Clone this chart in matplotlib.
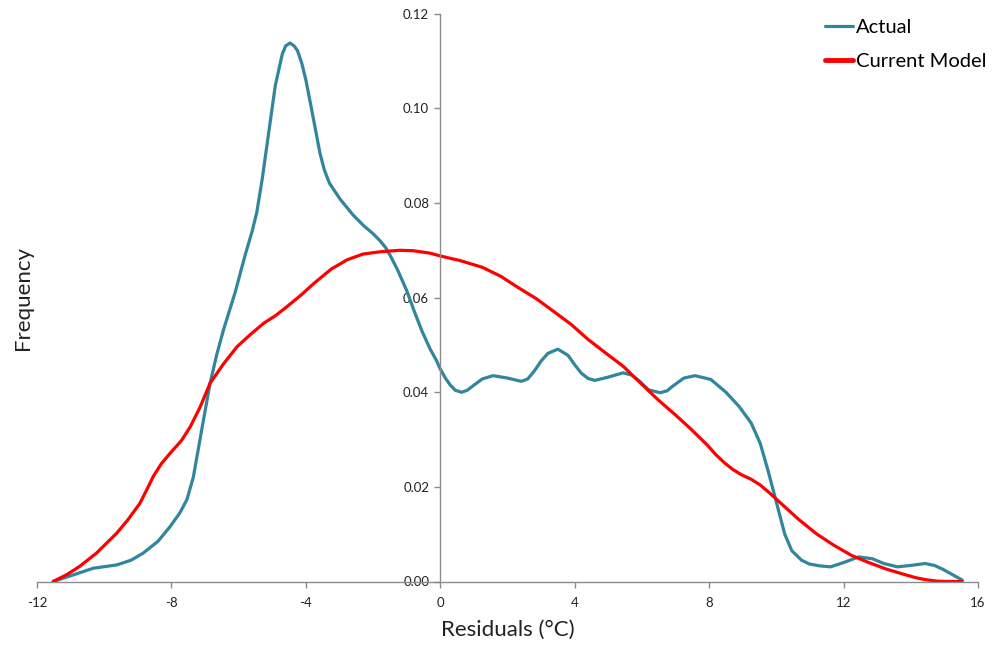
import matplotlib
matplotlib.use("Agg")
import matplotlib.pyplot as plt

# ── Data ──────────────────────────────────────────────────────────────────────
actual_x = [-11.52, -11.0, -10.33, -9.63, -9.2, -8.84, -8.4, -8.04, -7.75, -7.54,
            -7.35, -7.24, -7.05, -6.85, -6.65, -6.45, -6.1, -5.81, -5.6, -5.46,
            -5.3, -5.16, -4.91, -4.7, -4.6, -4.47, -4.35, -4.25, -4.12, -4.0,
            -3.87, -3.7, -3.58, -3.45, -3.3, -2.98, -2.6, -2.28, -2.0, -1.79,
            -1.62, -1.49, -1.28, -1.0, -0.79, -0.55, -0.30, -0.12, 0.0, 0.15,
            0.3, 0.45, 0.63, 0.8, 1.0, 1.25, 1.57, 2.0, 2.41, 2.6,
            2.8, 3.0, 3.2, 3.5, 3.8, 4.0, 4.2, 4.4, 4.6, 5.0,
            5.44, 5.7, 5.9, 6.2, 6.54, 6.75, 6.9, 7.25, 7.58, 8.05,
            8.5, 8.89, 9.25, 9.52, 9.75, 10.04, 10.25, 10.46, 10.75, 10.98,
            11.3, 11.61, 12.0, 12.45, 12.86, 13.2, 13.6, 14.0, 14.43, 14.7,
            14.95, 15.53]
actual_y = [0.0, 0.0012, 0.0028, 0.0035, 0.0045, 0.0060, 0.0085, 0.0116, 0.0145, 0.0173,
            0.0220, 0.0264, 0.0340, 0.0419, 0.0480, 0.0532, 0.0612, 0.0689, 0.0740, 0.0780,
            0.0850, 0.0921, 0.1048, 0.1115, 0.1132, 0.1138, 0.1132, 0.1122, 0.1095, 0.1060,
            0.1013, 0.0950, 0.0905, 0.0870, 0.0842, 0.0808, 0.0775, 0.0752, 0.0735, 0.0720,
            0.0705, 0.0689, 0.0660, 0.0615, 0.0574, 0.0530, 0.0491, 0.0468, 0.0449, 0.0430,
            0.0415, 0.0404, 0.0400, 0.0404, 0.0415, 0.0428, 0.0435, 0.0430, 0.0423, 0.0428,
            0.0445, 0.0466, 0.0482, 0.0491, 0.0478, 0.0458, 0.0440, 0.0429, 0.0425, 0.0432,
            0.0441, 0.0436, 0.0425, 0.0405, 0.0399, 0.0403, 0.0412, 0.0430, 0.0435, 0.0427,
            0.0400, 0.0370, 0.0335, 0.0292, 0.0235, 0.0157, 0.0100, 0.0065, 0.0045, 0.0037,
            0.0033, 0.0031, 0.0040, 0.0052, 0.0048, 0.0038, 0.0031, 0.0034, 0.0038, 0.0034,
            0.0026, 0.0003]

model_x = [-11.52, -11.1, -10.73, -10.23, -9.63, -9.3, -8.94, -8.74, -8.54, -8.3,
           -8.04, -7.7, -7.44, -7.15, -6.85, -6.45, -6.05, -5.65, -5.25, -4.9,
           -4.56, -4.15, -3.76, -3.25, -2.77, -2.3, -1.77, -1.2, -0.8, -0.31,
           0.0, 0.6, 1.25, 1.8, 2.3, 2.85, 3.35, 3.9, 4.39, 4.9,
           5.44, 5.95, 6.48, 6.95, 7.43, 7.95, 8.2, 8.47, 8.7, 8.95,
           9.25, 9.52, 9.8, 10.14, 10.65, 11.19, 11.7, 12.24, 12.75, 13.28,
           13.85, 14.15, 14.43, 14.75, 15.0, 15.53]
model_y = [0.0, 0.0015, 0.0032, 0.0060, 0.0102, 0.0130, 0.0165, 0.0193, 0.0222, 0.0249,
           0.0271, 0.0298, 0.0327, 0.0368, 0.0419, 0.0460, 0.0496, 0.0522, 0.0546, 0.0562,
           0.0581, 0.0605, 0.0630, 0.0660, 0.0680, 0.0692, 0.0697, 0.0700, 0.0699, 0.0694,
           0.0688, 0.0678, 0.0664, 0.0645, 0.0622, 0.0598, 0.0572, 0.0543, 0.0512, 0.0484,
           0.0455, 0.0420, 0.0384, 0.0355, 0.0324, 0.0288, 0.0268, 0.0250, 0.0237, 0.0226,
           0.0216, 0.0204, 0.0187, 0.0165, 0.0132, 0.0101, 0.0077, 0.0055, 0.0040, 0.0026,
           0.0014, 0.0008, 0.0004, 0.0001, 0.0, 0.0]

x_ticks = [-12, -8, -4, 0, 4, 8, 12, 16]
y_ticks = [0.00, 0.02, 0.04, 0.06, 0.08, 0.10, 0.12]

TEAL = "#31859C"
RED = "#FF0000"
GREY = "#8C8C8C"

plt.rcParams["font.family"] = ["Lato", "DejaVu Sans"]

fig = plt.figure(figsize=(9.94, 6.48), dpi=100)
ax = fig.add_axes([37 / 994, 66.5 / 648, 941 / 994, 567.8 / 648])

ax.plot(actual_x, actual_y, color=TEAL, lw=2.3, label="Actual",
        solid_capstyle="round", solid_joinstyle="round")
ax.plot(model_x, model_y, color=RED, lw=2.3, label="Current Model",
        solid_capstyle="round", solid_joinstyle="round")

ax.set_xlim(-12, 16)
ax.set_ylim(0, 0.12)
ax.set_xticks(x_ticks)
ax.set_xticklabels([str(t) for t in x_ticks])
ax.set_yticks(y_ticks)
ax.set_yticklabels([f"{t:.2f}" for t in y_ticks])

ax.spines["left"].set_position(("data", 0))
ax.spines["top"].set_visible(False)
ax.spines["right"].set_visible(False)
for s in ("left", "bottom"):
    ax.spines[s].set_color(GREY)
    ax.spines[s].set_linewidth(1.0)
ax.tick_params(axis="both", colors=GREY, length=4, width=1.0, labelsize=9.5,
               labelcolor="#222222")
ax.tick_params(axis="x", pad=7)
ax.tick_params(axis="y", pad=4)

fig.text(508 / 994, 1 - 630 / 648, "Residuals (°C)", ha="center", va="center",
         fontsize=16, color="#222222")
fig.text(23 / 994, 1 - 298 / 648, "Frequency", ha="center", va="center",
         rotation=90, fontsize=16, color="#222222")

leg = ax.legend(loc="upper right", bbox_to_anchor=(1.028, 1.022), frameon=False,
                fontsize=14.5, handlelength=1.4, handletextpad=0.12, labelspacing=0.8)
leg.get_lines()[1].set_linewidth(3.5)

fig.savefig("out.png", dpi=100, facecolor="white")
